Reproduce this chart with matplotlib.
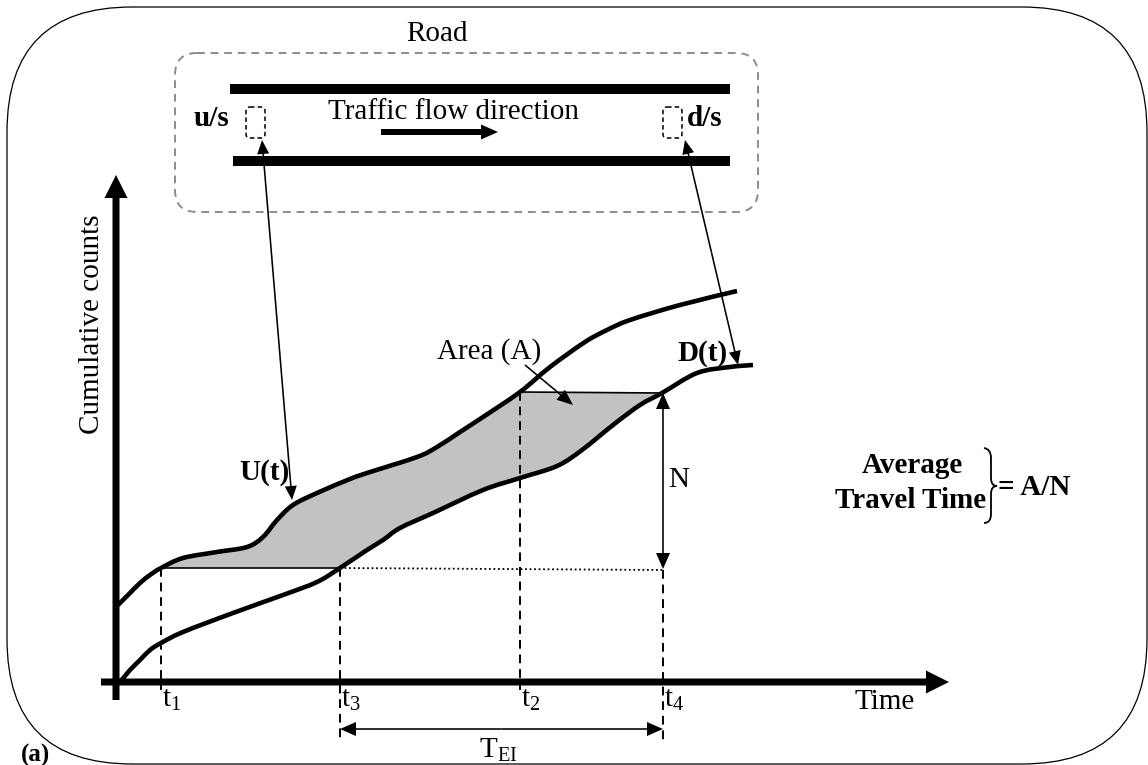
import numpy as np
import matplotlib
matplotlib.use("Agg")
import matplotlib.pyplot as plt
from matplotlib.patches import FancyBboxPatch, PathPatch
from matplotlib.path import Path

plt.rcParams['font.family'] = ['Liberation Serif', 'DejaVu Serif']
plt.rcParams['mathtext.fontset'] = 'custom'
plt.rcParams['mathtext.rm'] = 'Liberation Serif'
plt.rcParams['mathtext.it'] = 'Liberation Serif:italic'
plt.rcParams['hatch.color'] = '#7a7a7a'
plt.rcParams['hatch.linewidth'] = 0.5

# cumulative arrival curve U(t) (upstream), pixel units
U_time = [118, 130, 140, 150, 161, 183, 217, 247, 263, 277, 293, 317, 350, 367,
          417, 437, 460, 483, 520, 550, 585, 607, 630, 680, 737]
U_count = [605, 593, 583, 575, 568, 558, 552, 547, 537, 520, 505, 493, 479, 473,
           457, 447, 432, 417, 392, 367, 342, 330, 320, 305, 291]

# cumulative departure curve D(t) (downstream)
D_time = [120, 130, 140, 150, 161, 183, 233, 283, 317, 340, 367, 383, 400, 433,
          483, 520, 557, 582, 613, 640, 662, 697, 730, 753]
D_count = [682, 670, 660, 650, 643, 632, 613, 595, 582, 568, 550, 540, 528, 513,
           490, 478, 466, 450, 425, 405, 393, 373, 367, 365]

# time marks t1, t3, t2, t4
t_marks = {"1": 161, "3": 340, "2": 520, "4": 663}
N_low, N_high = 569, 393
t_axis_y = 682

U_time = np.array(U_time); U_count = np.array(U_count)
D_time = np.array(D_time); D_count = np.array(D_count)


def bezier_through(xs, ys, start_code=Path.MOVETO):
    # cubic bezier pieces passing through every read point (Catmull-Rom style)
    P = np.column_stack([xs, ys]).astype(float)
    verts = [tuple(P[0])]
    codes = [start_code]
    n = len(P)
    for i in range(n - 1):
        p0 = P[i - 1] if i > 0 else P[i]
        p1, p2 = P[i], P[i + 1]
        p3 = P[i + 2] if i + 2 < n else P[i + 1]
        c1 = p1 + (p2 - p0) / 6.0
        c2 = p2 - (p3 - p1) / 6.0
        verts += [tuple(c1), tuple(c2), tuple(p2)]
        codes += [Path.CURVE4] * 3
    return verts, codes


fig = plt.figure(figsize=(11.48, 7.65), dpi=100)
ax = fig.add_axes([0, 0, 1, 1])
ax.set_xlim(0, 1148)
ax.set_ylim(765, 0)
ax.axis("off")

# outer rounded frame
ax.add_patch(FancyBboxPatch((7, 7), 1140, 757, boxstyle="round,pad=0,rounding_size=125",
                            fill=False, ec="black", lw=0.9, clip_on=False))

# road box
ax.add_patch(FancyBboxPatch((175, 53), 583, 159, boxstyle="round,pad=0,rounding_size=22",
                            fill=False, ec="#8c8c8c", lw=1.4, ls=(0, (4, 3))))
ax.plot([230, 730], [89, 89], color="black", lw=7.2, solid_capstyle="butt")
ax.plot([233, 730], [161, 161], color="black", lw=7.2, solid_capstyle="butt")
for bx in [246, 663]:
    ax.add_patch(FancyBboxPatch((bx, 107), 19, 31, boxstyle="round,pad=0,rounding_size=4",
                                fill=False, ec="black", lw=1.1, ls=(0, (3, 2))))
ax.text(437, 34, "Road", ha="center", va="center", fontsize=21)
ax.text(211, 118, "u/s", ha="center", va="center", fontsize=21, fontweight="bold")
ax.text(705, 118, "d/s", ha="center", va="center", fontsize=21, fontweight="bold")
ax.text(453, 112, "Traffic flow direction", ha="center", va="center", fontsize=21)
ax.arrow(381, 132, 117, 0, width=6, head_width=15, head_length=17,
         length_includes_head=True, color="black", lw=0)

# shaded area between curves: U from t1 to t2, across to D at t4, back along D to t3
m_u = (U_time >= 161) & (U_time <= 520)
m_d = (D_time >= 340) & (D_time <= 662)
vu, cu = bezier_through(U_time[m_u], U_count[m_u])
vd, cd = bezier_through(D_time[m_d][::-1], D_count[m_d][::-1], start_code=Path.LINETO)
area = Path(vu + vd + [vu[0]], cu + cd + [Path.CLOSEPOLY])
ax.add_patch(PathPatch(area, facecolor="#c2c2c2", edgecolor="none", hatch="//////"))
ax.plot([161, 340], [568, 568], color="black", lw=1.2)
ax.plot([520, 662], [392, 393], color="black", lw=1.2)
ax.plot([340, 663], [568, 570], color="black", lw=1.3, ls=(0, (1, 1.5)))

# dashed time marks
dash = (0, (4.5, 3))
ax.plot([161, 161], [568, 690], color="black", lw=1.4, ls=dash)
ax.plot([340, 340], [568, 740], color="black", lw=1.4, ls=dash)
ax.plot([520, 520], [392, 690], color="black", lw=1.4, ls=dash)
ax.plot([663, 663], [570, 740], color="black", lw=1.4, ls=dash)

# the two curves
for tt, cc in [(U_time, U_count), (D_time, D_count)]:
    v, c = bezier_through(tt, cc)
    ax.add_patch(PathPatch(Path(v, c), fill=False, ec="black", lw=3.3, capstyle="butt"))

# axes
ax.arrow(116, 700, 0, -525, width=7, head_width=23, head_length=23,
         length_includes_head=True, color="black", lw=0)
ax.arrow(101, t_axis_y, 848, 0, width=7, head_width=23, head_length=23,
         length_includes_head=True, color="black", lw=0)
ax.text(92, 324, "Cumulative counts", rotation=90, ha="center", va="center", fontsize=21)
ax.text(885, 702, "Time", ha="center", va="center", fontsize=21)


def double_arrow(x0, y0, x1, y1, hw=12, hl=14):
    mx, my = (x0 + x1) / 2.0, (y0 + y1) / 2.0
    for ex, ey in [(x0, y0), (x1, y1)]:
        ax.arrow(mx, my, ex - mx, ey - my, width=1.6, head_width=hw, head_length=hl,
                 length_includes_head=True, color="black", lw=0)


# detector to curve links
double_arrow(262, 140, 292, 500)
double_arrow(685, 140, 738, 365)
# N and T_EI
double_arrow(663, N_high, 663, N_low, hw=14, hl=16)
double_arrow(340, 729, 663, 729, hw=14, hl=16)
# area pointer
ax.arrow(525, 365, 48, 40, width=1.6, head_width=13, head_length=16,
         length_includes_head=True, color="black", lw=0)

for k, tx in t_marks.items():
    ax.text(tx + 1, 700, r"$\mathrm{t}_{%s}$" % k, ha="left", va="center", fontsize=21)
ax.text(498, 750, r"$\mathrm{T}_{\mathrm{EI}}$", ha="center", va="center", fontsize=21)

ax.text(289, 472, "U(t)", ha="right", va="center", fontsize=21, fontweight="bold")
ax.text(703, 353, "D(t)", ha="center", va="center", fontsize=21, fontweight="bold")
ax.text(489, 352, "Area (A)", ha="center", va="center", fontsize=21)
ax.text(668, 480, "N", ha="left", va="center", fontsize=21)

# average travel time note with brace
ax.text(912, 465, "Average", ha="center", va="center", fontsize=21, fontweight="bold")
ax.text(911, 500, "Travel Time", ha="center", va="center", fontsize=21, fontweight="bold")
ax.text(998, 487, "= A/N", ha="left", va="center", fontsize=21, fontweight="bold")
brace = Path([(984, 448), (991, 449), (991, 458), (991, 478), (991, 486), (997, 486),
              (991, 486), (991, 494), (991, 514), (991, 523), (984, 523)],
             [Path.MOVETO, Path.CURVE3, Path.CURVE3, Path.LINETO, Path.CURVE3, Path.CURVE3,
              Path.CURVE3, Path.CURVE3, Path.LINETO, Path.CURVE3, Path.CURVE3])
ax.add_patch(PathPatch(brace, fill=False, lw=1.3, ec="black"))

ax.text(35, 755, "(a)", ha="center", va="center", fontsize=18, fontweight="bold")

fig.savefig("out.png", dpi=100)
